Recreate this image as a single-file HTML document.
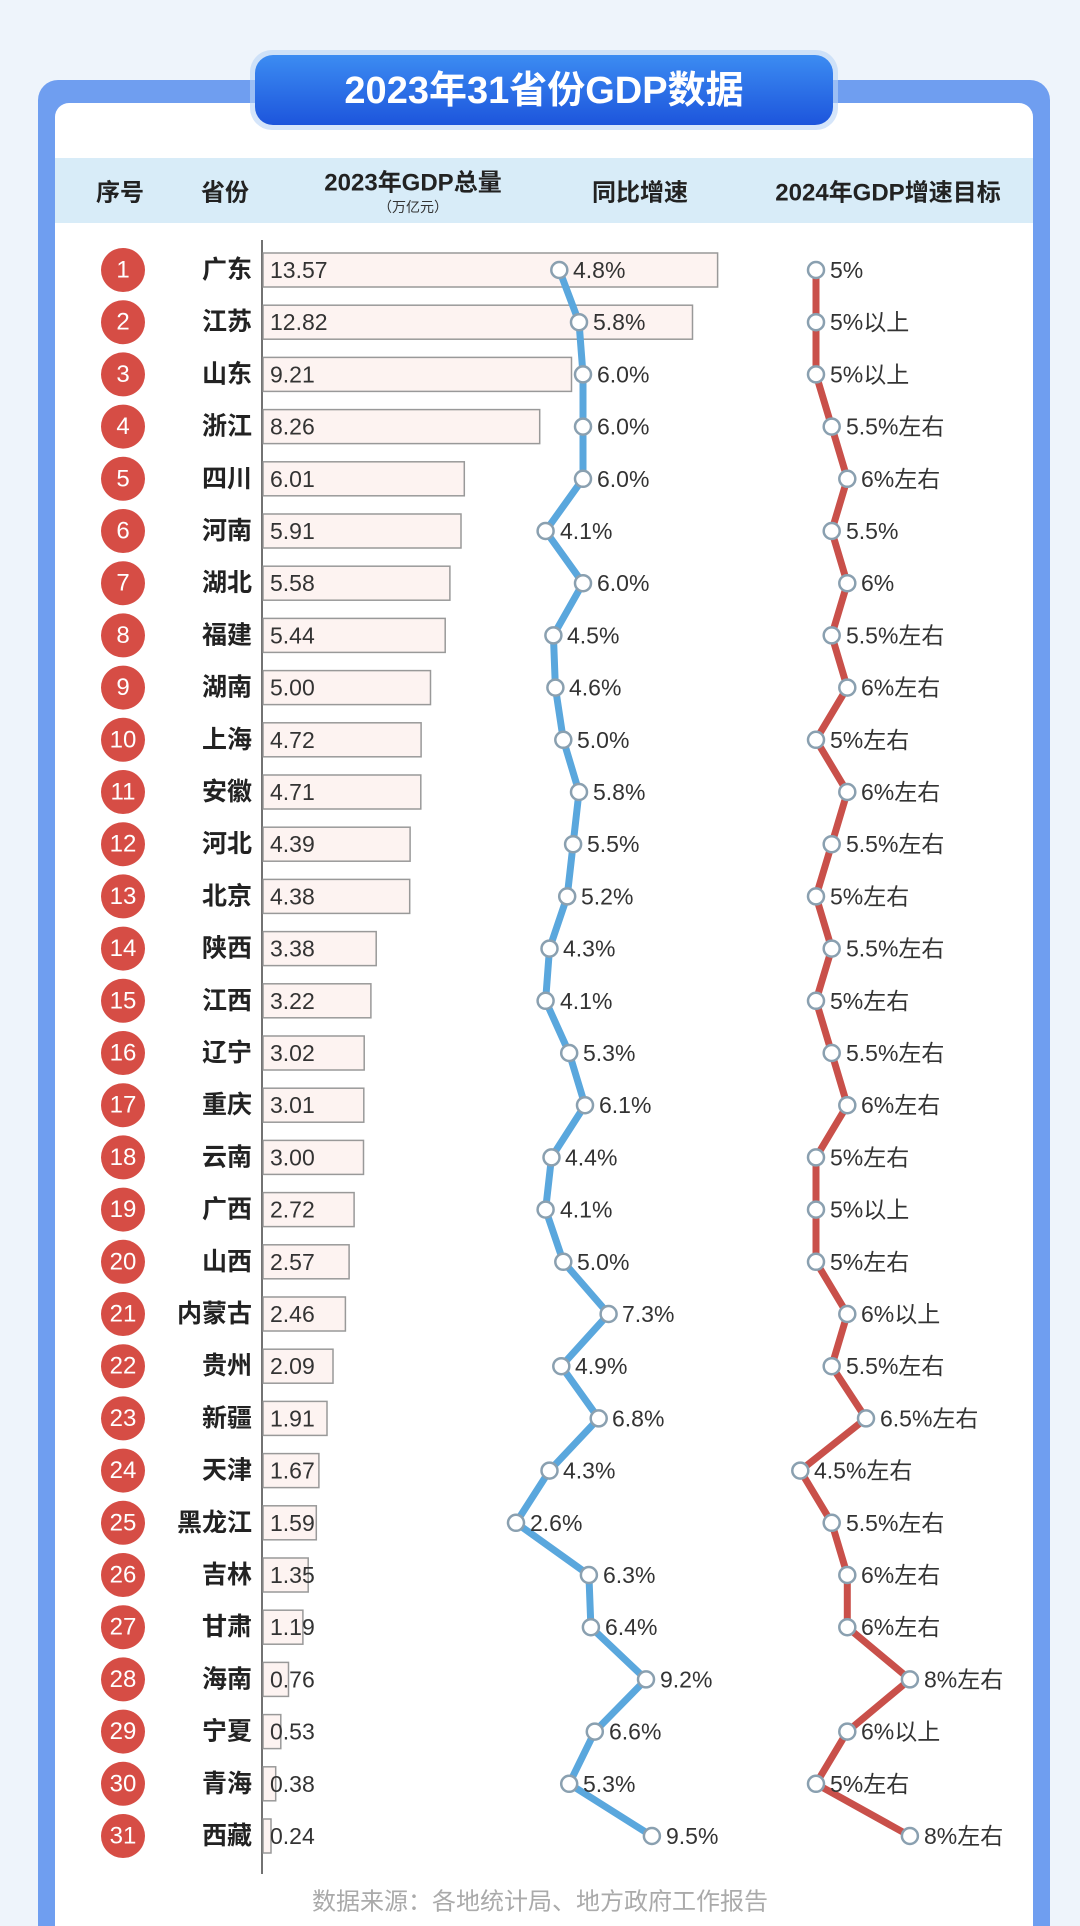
<!DOCTYPE html>
<html><head><meta charset="utf-8"><style>
html,body{margin:0;padding:0;background:#eef4fb}
svg{display:block}
text{font-family:"Liberation Sans","Noto Sans CJK SC",sans-serif}
.n{fill:#fff;font-size:24px;text-anchor:middle;dominant-baseline:central}
.p{fill:#222;font-size:25px;font-weight:bold;text-anchor:end;dominant-baseline:central}
.v{fill:#333;font-size:23px;dominant-baseline:central}
.h{fill:#222;font-size:24px;font-weight:bold;text-anchor:middle;dominant-baseline:central}
</style></head><body>
<svg width="1080" height="1926" viewBox="0 0 1080 1926" xmlns="http://www.w3.org/2000/svg">
<defs>
<linearGradient id="tg" x1="0" y1="0" x2="0" y2="1"><stop offset="0" stop-color="#3c8cf2"/><stop offset="1" stop-color="#1d55dc"/></linearGradient>
</defs>
<rect width="1080" height="1926" fill="#eef4fb"/>
<rect x="38" y="80" width="1012" height="1900" rx="20" fill="#6f9ef0"/>
<rect x="55" y="103" width="978" height="1880" rx="14" fill="#fff"/>
<rect x="250" y="50" width="588" height="80" rx="22" fill="#b9d3f6" opacity="0.6"/>
<rect x="255" y="55" width="578" height="70" rx="18" fill="url(#tg)"/>
<text x="544" y="91" fill="#fff" font-size="38" font-weight="bold" text-anchor="middle" dominant-baseline="central">2023年31省份GDP数据</text>
<rect x="55" y="158" width="978" height="65" fill="#d8ecf8"/>
<text class="h" x="120" y="193">序号</text>
<text class="h" x="225" y="193">省份</text>
<text class="h" x="413" y="183">2023年GDP总量</text>
<text x="413" y="207" fill="#333" font-size="14" text-anchor="middle" dominant-baseline="central">（万亿元）</text>
<text class="h" x="640" y="193">同比增速</text>
<text class="h" x="888" y="193">2024年GDP增速目标</text>
<line x1="262" y1="240" x2="262" y2="1874" stroke="#444" stroke-width="1.5"/>
<g fill="#fdf3f1" stroke="#999" stroke-width="1.5">
<rect x="263" y="253" width="454.6" height="34"/><rect x="263" y="305.2" width="429.5" height="34"/><rect x="263" y="357.4" width="308.5" height="34"/><rect x="263" y="409.6" width="276.7" height="34"/><rect x="263" y="461.8" width="201.3" height="34"/><rect x="263" y="514" width="198" height="34"/><rect x="263" y="566.2" width="186.9" height="34"/><rect x="263" y="618.4" width="182.2" height="34"/><rect x="263" y="670.6" width="167.5" height="34"/><rect x="263" y="722.8" width="158.1" height="34"/><rect x="263" y="775" width="157.8" height="34"/><rect x="263" y="827.2" width="147.1" height="34"/><rect x="263" y="879.4" width="146.7" height="34"/><rect x="263" y="931.6" width="113.2" height="34"/><rect x="263" y="983.8" width="107.9" height="34"/><rect x="263" y="1036" width="101.2" height="34"/><rect x="263" y="1088.2" width="100.8" height="34"/><rect x="263" y="1140.4" width="100.5" height="34"/><rect x="263" y="1192.6" width="91.1" height="34"/><rect x="263" y="1244.8" width="86.1" height="34"/><rect x="263" y="1297" width="82.4" height="34"/><rect x="263" y="1349.2" width="70" height="34"/><rect x="263" y="1401.4" width="64" height="34"/><rect x="263" y="1453.6" width="55.9" height="34"/><rect x="263" y="1505.8" width="53.3" height="34"/><rect x="263" y="1558" width="45.2" height="34"/><rect x="263" y="1610.2" width="39.9" height="34"/><rect x="263" y="1662.4" width="25.5" height="34"/><rect x="263" y="1714.6" width="17.8" height="34"/><rect x="263" y="1766.8" width="12.7" height="34"/><rect x="263" y="1819" width="8" height="34"/>
</g>
<polyline fill="none" stroke="#5aa7dd" stroke-width="7" stroke-linejoin="round" points="559.3,270 579,322.2 583,374.4 583,426.6 583,478.8 545.6,531 583,583.2 553.4,635.4 555.4,687.6 563.3,739.8 579,792 573.1,844.2 567.2,896.4 549.5,948.6 545.6,1000.8 569.2,1053 585,1105.2 551.5,1157.4 545.6,1209.6 563.3,1261.8 608.6,1314 561.3,1366.2 598.7,1418.4 549.5,1470.6 516,1522.8 588.9,1575 590.9,1627.2 646,1679.4 594.8,1731.6 569.2,1783.8 651.9,1836"/>
<polyline fill="none" stroke="#c9504a" stroke-width="7" stroke-linejoin="round" points="816,270 816,322.2 816,374.4 831.7,426.6 847.3,478.8 831.7,531 847.3,583.2 831.7,635.4 847.3,687.6 816,739.8 847.3,792 831.7,844.2 816,896.4 831.7,948.6 816,1000.8 831.7,1053 847.3,1105.2 816,1157.4 816,1209.6 816,1261.8 847.3,1314 831.7,1366.2 866,1418.4 800.3,1470.6 831.7,1522.8 847.3,1575 847.3,1627.2 909.9,1679.4 847.3,1731.6 816,1783.8 909.9,1836"/>
<g fill="#fff" stroke="#8aa0b0" stroke-width="2.5">
<circle cx="559.3" cy="270" r="8"/><circle cx="579" cy="322.2" r="8"/><circle cx="583" cy="374.4" r="8"/><circle cx="583" cy="426.6" r="8"/><circle cx="583" cy="478.8" r="8"/><circle cx="545.6" cy="531" r="8"/><circle cx="583" cy="583.2" r="8"/><circle cx="553.4" cy="635.4" r="8"/><circle cx="555.4" cy="687.6" r="8"/><circle cx="563.3" cy="739.8" r="8"/><circle cx="579" cy="792" r="8"/><circle cx="573.1" cy="844.2" r="8"/><circle cx="567.2" cy="896.4" r="8"/><circle cx="549.5" cy="948.6" r="8"/><circle cx="545.6" cy="1000.8" r="8"/><circle cx="569.2" cy="1053" r="8"/><circle cx="585" cy="1105.2" r="8"/><circle cx="551.5" cy="1157.4" r="8"/><circle cx="545.6" cy="1209.6" r="8"/><circle cx="563.3" cy="1261.8" r="8"/><circle cx="608.6" cy="1314" r="8"/><circle cx="561.3" cy="1366.2" r="8"/><circle cx="598.7" cy="1418.4" r="8"/><circle cx="549.5" cy="1470.6" r="8"/><circle cx="516" cy="1522.8" r="8"/><circle cx="588.9" cy="1575" r="8"/><circle cx="590.9" cy="1627.2" r="8"/><circle cx="646" cy="1679.4" r="8"/><circle cx="594.8" cy="1731.6" r="8"/><circle cx="569.2" cy="1783.8" r="8"/><circle cx="651.9" cy="1836" r="8"/>
<circle cx="816" cy="270" r="8"/><circle cx="816" cy="322.2" r="8"/><circle cx="816" cy="374.4" r="8"/><circle cx="831.7" cy="426.6" r="8"/><circle cx="847.3" cy="478.8" r="8"/><circle cx="831.7" cy="531" r="8"/><circle cx="847.3" cy="583.2" r="8"/><circle cx="831.7" cy="635.4" r="8"/><circle cx="847.3" cy="687.6" r="8"/><circle cx="816" cy="739.8" r="8"/><circle cx="847.3" cy="792" r="8"/><circle cx="831.7" cy="844.2" r="8"/><circle cx="816" cy="896.4" r="8"/><circle cx="831.7" cy="948.6" r="8"/><circle cx="816" cy="1000.8" r="8"/><circle cx="831.7" cy="1053" r="8"/><circle cx="847.3" cy="1105.2" r="8"/><circle cx="816" cy="1157.4" r="8"/><circle cx="816" cy="1209.6" r="8"/><circle cx="816" cy="1261.8" r="8"/><circle cx="847.3" cy="1314" r="8"/><circle cx="831.7" cy="1366.2" r="8"/><circle cx="866" cy="1418.4" r="8"/><circle cx="800.3" cy="1470.6" r="8"/><circle cx="831.7" cy="1522.8" r="8"/><circle cx="847.3" cy="1575" r="8"/><circle cx="847.3" cy="1627.2" r="8"/><circle cx="909.9" cy="1679.4" r="8"/><circle cx="847.3" cy="1731.6" r="8"/><circle cx="816" cy="1783.8" r="8"/><circle cx="909.9" cy="1836" r="8"/>
</g>
<g fill="#d64d45">
<circle cx="123" cy="270" r="22"/><circle cx="123" cy="322.2" r="22"/><circle cx="123" cy="374.4" r="22"/><circle cx="123" cy="426.6" r="22"/><circle cx="123" cy="478.8" r="22"/><circle cx="123" cy="531" r="22"/><circle cx="123" cy="583.2" r="22"/><circle cx="123" cy="635.4" r="22"/><circle cx="123" cy="687.6" r="22"/><circle cx="123" cy="739.8" r="22"/><circle cx="123" cy="792" r="22"/><circle cx="123" cy="844.2" r="22"/><circle cx="123" cy="896.4" r="22"/><circle cx="123" cy="948.6" r="22"/><circle cx="123" cy="1000.8" r="22"/><circle cx="123" cy="1053" r="22"/><circle cx="123" cy="1105.2" r="22"/><circle cx="123" cy="1157.4" r="22"/><circle cx="123" cy="1209.6" r="22"/><circle cx="123" cy="1261.8" r="22"/><circle cx="123" cy="1314" r="22"/><circle cx="123" cy="1366.2" r="22"/><circle cx="123" cy="1418.4" r="22"/><circle cx="123" cy="1470.6" r="22"/><circle cx="123" cy="1522.8" r="22"/><circle cx="123" cy="1575" r="22"/><circle cx="123" cy="1627.2" r="22"/><circle cx="123" cy="1679.4" r="22"/><circle cx="123" cy="1731.6" r="22"/><circle cx="123" cy="1783.8" r="22"/><circle cx="123" cy="1836" r="22"/>
</g>
<text class="n" x="123" y="270">1</text><text class="n" x="123" y="322.2">2</text><text class="n" x="123" y="374.4">3</text><text class="n" x="123" y="426.6">4</text><text class="n" x="123" y="478.8">5</text><text class="n" x="123" y="531">6</text><text class="n" x="123" y="583.2">7</text><text class="n" x="123" y="635.4">8</text><text class="n" x="123" y="687.6">9</text><text class="n" x="123" y="739.8">10</text><text class="n" x="123" y="792">11</text><text class="n" x="123" y="844.2">12</text><text class="n" x="123" y="896.4">13</text><text class="n" x="123" y="948.6">14</text><text class="n" x="123" y="1000.8">15</text><text class="n" x="123" y="1053">16</text><text class="n" x="123" y="1105.2">17</text><text class="n" x="123" y="1157.4">18</text><text class="n" x="123" y="1209.6">19</text><text class="n" x="123" y="1261.8">20</text><text class="n" x="123" y="1314">21</text><text class="n" x="123" y="1366.2">22</text><text class="n" x="123" y="1418.4">23</text><text class="n" x="123" y="1470.6">24</text><text class="n" x="123" y="1522.8">25</text><text class="n" x="123" y="1575">26</text><text class="n" x="123" y="1627.2">27</text><text class="n" x="123" y="1679.4">28</text><text class="n" x="123" y="1731.6">29</text><text class="n" x="123" y="1783.8">30</text><text class="n" x="123" y="1836">31</text>
<text class="p" x="252" y="270">广东</text><text class="p" x="252" y="322.2">江苏</text><text class="p" x="252" y="374.4">山东</text><text class="p" x="252" y="426.6">浙江</text><text class="p" x="252" y="478.8">四川</text><text class="p" x="252" y="531">河南</text><text class="p" x="252" y="583.2">湖北</text><text class="p" x="252" y="635.4">福建</text><text class="p" x="252" y="687.6">湖南</text><text class="p" x="252" y="739.8">上海</text><text class="p" x="252" y="792">安徽</text><text class="p" x="252" y="844.2">河北</text><text class="p" x="252" y="896.4">北京</text><text class="p" x="252" y="948.6">陕西</text><text class="p" x="252" y="1000.8">江西</text><text class="p" x="252" y="1053">辽宁</text><text class="p" x="252" y="1105.2">重庆</text><text class="p" x="252" y="1157.4">云南</text><text class="p" x="252" y="1209.6">广西</text><text class="p" x="252" y="1261.8">山西</text><text class="p" x="252" y="1314">内蒙古</text><text class="p" x="252" y="1366.2">贵州</text><text class="p" x="252" y="1418.4">新疆</text><text class="p" x="252" y="1470.6">天津</text><text class="p" x="252" y="1522.8">黑龙江</text><text class="p" x="252" y="1575">吉林</text><text class="p" x="252" y="1627.2">甘肃</text><text class="p" x="252" y="1679.4">海南</text><text class="p" x="252" y="1731.6">宁夏</text><text class="p" x="252" y="1783.8">青海</text><text class="p" x="252" y="1836">西藏</text>
<g class="v">
<text class="v" x="270" y="270">13.57</text><text class="v" x="270" y="322.2">12.82</text><text class="v" x="270" y="374.4">9.21</text><text class="v" x="270" y="426.6">8.26</text><text class="v" x="270" y="478.8">6.01</text><text class="v" x="270" y="531">5.91</text><text class="v" x="270" y="583.2">5.58</text><text class="v" x="270" y="635.4">5.44</text><text class="v" x="270" y="687.6">5.00</text><text class="v" x="270" y="739.8">4.72</text><text class="v" x="270" y="792">4.71</text><text class="v" x="270" y="844.2">4.39</text><text class="v" x="270" y="896.4">4.38</text><text class="v" x="270" y="948.6">3.38</text><text class="v" x="270" y="1000.8">3.22</text><text class="v" x="270" y="1053">3.02</text><text class="v" x="270" y="1105.2">3.01</text><text class="v" x="270" y="1157.4">3.00</text><text class="v" x="270" y="1209.6">2.72</text><text class="v" x="270" y="1261.8">2.57</text><text class="v" x="270" y="1314">2.46</text><text class="v" x="270" y="1366.2">2.09</text><text class="v" x="270" y="1418.4">1.91</text><text class="v" x="270" y="1470.6">1.67</text><text class="v" x="270" y="1522.8">1.59</text><text class="v" x="270" y="1575">1.35</text><text class="v" x="270" y="1627.2">1.19</text><text class="v" x="270" y="1679.4">0.76</text><text class="v" x="270" y="1731.6">0.53</text><text class="v" x="270" y="1783.8">0.38</text><text class="v" x="270" y="1836">0.24</text>
<text class="v" x="573" y="270">4.8%</text><text class="v" x="593" y="322.2">5.8%</text><text class="v" x="597" y="374.4">6.0%</text><text class="v" x="597" y="426.6">6.0%</text><text class="v" x="597" y="478.8">6.0%</text><text class="v" x="560" y="531">4.1%</text><text class="v" x="597" y="583.2">6.0%</text><text class="v" x="567" y="635.4">4.5%</text><text class="v" x="569" y="687.6">4.6%</text><text class="v" x="577" y="739.8">5.0%</text><text class="v" x="593" y="792">5.8%</text><text class="v" x="587" y="844.2">5.5%</text><text class="v" x="581" y="896.4">5.2%</text><text class="v" x="563" y="948.6">4.3%</text><text class="v" x="560" y="1000.8">4.1%</text><text class="v" x="583" y="1053">5.3%</text><text class="v" x="599" y="1105.2">6.1%</text><text class="v" x="565" y="1157.4">4.4%</text><text class="v" x="560" y="1209.6">4.1%</text><text class="v" x="577" y="1261.8">5.0%</text><text class="v" x="622" y="1314">7.3%</text><text class="v" x="575" y="1366.2">4.9%</text><text class="v" x="612" y="1418.4">6.8%</text><text class="v" x="563" y="1470.6">4.3%</text><text class="v" x="530" y="1522.8">2.6%</text><text class="v" x="603" y="1575">6.3%</text><text class="v" x="605" y="1627.2">6.4%</text><text class="v" x="660" y="1679.4">9.2%</text><text class="v" x="609" y="1731.6">6.6%</text><text class="v" x="583" y="1783.8">5.3%</text><text class="v" x="666" y="1836">9.5%</text>
<text class="v" x="830" y="270">5%</text><text class="v" x="830" y="322.2">5%以上</text><text class="v" x="830" y="374.4">5%以上</text><text class="v" x="846" y="426.6">5.5%左右</text><text class="v" x="861" y="478.8">6%左右</text><text class="v" x="846" y="531">5.5%</text><text class="v" x="861" y="583.2">6%</text><text class="v" x="846" y="635.4">5.5%左右</text><text class="v" x="861" y="687.6">6%左右</text><text class="v" x="830" y="739.8">5%左右</text><text class="v" x="861" y="792">6%左右</text><text class="v" x="846" y="844.2">5.5%左右</text><text class="v" x="830" y="896.4">5%左右</text><text class="v" x="846" y="948.6">5.5%左右</text><text class="v" x="830" y="1000.8">5%左右</text><text class="v" x="846" y="1053">5.5%左右</text><text class="v" x="861" y="1105.2">6%左右</text><text class="v" x="830" y="1157.4">5%左右</text><text class="v" x="830" y="1209.6">5%以上</text><text class="v" x="830" y="1261.8">5%左右</text><text class="v" x="861" y="1314">6%以上</text><text class="v" x="846" y="1366.2">5.5%左右</text><text class="v" x="880" y="1418.4">6.5%左右</text><text class="v" x="814" y="1470.6">4.5%左右</text><text class="v" x="846" y="1522.8">5.5%左右</text><text class="v" x="861" y="1575">6%左右</text><text class="v" x="861" y="1627.2">6%左右</text><text class="v" x="924" y="1679.4">8%左右</text><text class="v" x="861" y="1731.6">6%以上</text><text class="v" x="830" y="1783.8">5%左右</text><text class="v" x="924" y="1836">8%左右</text>
</g>
<text x="540" y="1902" fill="#aaa" font-size="24" text-anchor="middle" dominant-baseline="central">数据来源：各地统计局、地方政府工作报告</text>
</svg>
</body></html>
